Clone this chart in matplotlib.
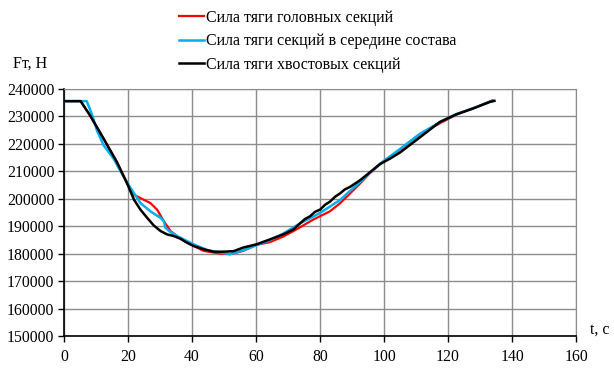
"""Traction force of train sections vs time."""

import matplotlib
matplotlib.use("Agg")
import matplotlib.pyplot as plt

plt.rcParams["font.family"] = ["Liberation Serif", "DejaVu Serif"]

# ── data ────────────────────────────────────────────────────────────────────
t_head = [0, 5.2, 8.2, 12.4, 16.5, 19.7, 21.9, 23.9, 27.0, 29.1, 31.2, 33.3,
          35.3, 38.4, 43.6, 48.8, 51.9, 56.0, 60.2, 64.4, 68.5, 72.0, 77.9,
          80.0, 83.1, 86.25, 89.4, 92.5, 95.6, 98.75, 105.0, 111.2, 117.4,
          122.6, 127.8, 134.0]
f_head = [235500, 235500, 230200, 221800, 213400, 205600, 201400, 200200,
          198400, 196000, 191800, 188200, 186400, 184000, 181000, 180000,
          179800, 181000, 183200, 184200, 186200, 188400, 192400, 193600,
          195400, 198300, 201900, 205500, 209300, 212600, 217900, 223400,
          227400, 230600, 232900, 235800]

t_mid = [0, 7.1, 8.7, 10.3, 12.4, 15.5, 17.7, 20.8, 23.9, 27.0, 30.2, 31.2,
         31.7, 33.3, 35.4, 40.6, 45.0, 51.9, 56.0, 60.2, 64.4, 68.5, 73.75,
         80.0, 86.25, 92.5, 98.75, 105.0, 111.2, 117.4, 122.6, 127.8, 133.5]
f_mid = [235500, 235500, 230800, 224800, 219400, 214600, 209900, 203900,
         198400, 195400, 193000, 191800, 189400, 187800, 186400, 183300,
         181200, 179800, 181200, 183100, 184900, 187300, 191000, 194800,
         199500, 206100, 212700, 218100, 223600, 227800, 230800, 232900,
         235400]

t_tail = [0, 5.2, 8.2, 12.4, 16.5, 19.7, 21.9, 23.9, 26.0, 28.1, 30.2, 32.2,
          34.3, 36.4, 38.4, 40.5, 43.6, 46.7, 49.8, 53.0, 56.0, 60.2, 64.4,
          68.5, 71.7, 73.75, 75.3, 76.9, 78.4, 80.0, 81.6, 83.1, 84.7,
          86.25, 87.8, 89.4, 92.5, 95.6, 98.75, 101.9, 105.0, 111.2, 117.4,
          122.6, 127.8, 133.0, 134.5]
f_tail = [235500, 235500, 230200, 221800, 213400, 205600, 199600, 196000,
          193000, 190200, 188200, 187000, 186400, 185400, 184000, 182800,
          181600, 180700, 180700, 180900, 182200, 183400, 185200, 187000,
          188800, 191000, 192600, 193600, 195200, 196000, 197800, 198900,
          200700, 201900, 203400, 204300, 206700, 209600, 212600, 214600,
          216800, 222300, 227900, 230700, 232800, 235200, 235600]

labels = ["Сила тяги головных секций",
          "Сила тяги секций в середине состава",
          "Сила тяги хвостовых секций"]
x_ticks = list(range(0, 161, 20))
y_ticks = list(range(150000, 240001, 10000))

fig = plt.figure(figsize=(6.14, 3.81), dpi=100)
ax = fig.add_axes([0.1042, 0.118, 0.834, 0.649])

ax.plot(t_head, f_head, color="#ff0000", linewidth=1.6, label=labels[0], zorder=3)
ax.plot(t_mid, f_mid, color="#00b0f0", linewidth=1.8, label=labels[1], zorder=4)
ax.plot(t_tail, f_tail, color="#000000", linewidth=1.8, label=labels[2], zorder=5)

ax.set_xlim(0, 160)
ax.set_ylim(150000, 240000)
ax.set_xticks(x_ticks)
ax.set_yticks(y_ticks)
ax.set_yticklabels([str(v) for v in y_ticks])
ax.grid(True, color="#8c8c8c", linewidth=1.0, zorder=0)
ax.tick_params(direction="out", length=4, width=1, labelsize=11.3, colors="#000000")
ax.tick_params(axis="x", pad=5)
ax.tick_params(axis="y", pad=3)
for side in ("top", "right"):
    ax.spines[side].set_color("#8c8c8c")
for side in ("left", "bottom"):
    ax.spines[side].set_color("#000000")
    ax.spines[side].set_linewidth(1.2)

fig.legend(loc="upper left", bbox_to_anchor=(0.291, 0.975), frameon=False,
           fontsize=11.5, handlelength=1.6, handletextpad=0.1, labelspacing=0.48,
           borderaxespad=0, borderpad=0)

fig.text(0.021, 1 - 64 / 381, "Fт, Н", fontsize=11.5, va="center", ha="left")
fig.text(0.961, 1 - 330 / 381, "t, с", fontsize=11.5, va="center", ha="left")

fig.savefig("out.png", dpi=100)
